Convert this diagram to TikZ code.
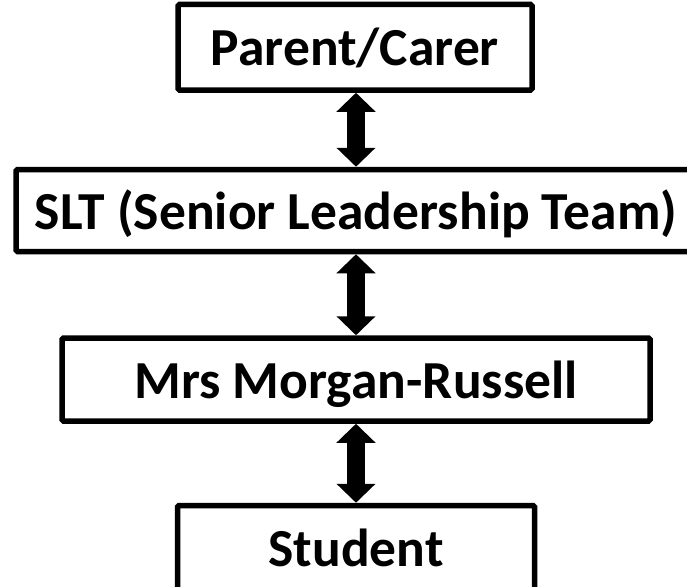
\documentclass[tikz,border=0pt]{standalone}
\usepackage{fontspec}
\setmainfont{Carlito}
\usetikzlibrary{arrows.meta}
\begin{document}
\begin{tikzpicture}[x=1pt,y=-1pt,
  box/.style={draw=black, line width=5.5pt, fill=white, rounded corners=1.5pt,
    inner sep=0pt, outer sep=0pt, text height=37pt, text depth=0pt,
    font=\fontsize{53.5}{60}\bfseries\selectfont},
  link/.style={line width=18pt, {Triangle[width=38pt,length=19pt]}-{Triangle[width=38pt,length=19pt]}, shorten <=0pt, shorten >=0pt}]
\useasboundingbox[fill=white] (0,0) rectangle (687,586);
\node[box, minimum width=354pt, minimum height=85.5pt] (parent) at (355,47.25) {Parent/Carer};
\node[box, minimum width=680pt, minimum height=82pt] (slt) at (356,210.5) {SLT (Senior Leadership Team)};
\node[box, minimum width=588pt, minimum height=83pt] (mrs) at (356,379.5) {Mrs Morgan-Russell};
\node[box, minimum width=357pt, minimum height=96pt] (student) at (356,553.5) {};
\node[font=\fontsize{53.5}{60}\bfseries\selectfont, text height=37pt, text depth=0pt, inner sep=0pt] (studentlabel) at (356,547.5) {Student};
\draw[link] ([yshift=-2.75pt]parent.south -| 356,0) -- ([yshift=2.75pt]slt.north -| 356,0);
\draw[link] ([yshift=-2.75pt]slt.south) -- ([yshift=2.75pt]mrs.north);
\draw[link] ([yshift=-2.75pt]mrs.south) -- ([yshift=2.75pt]student.north);
\end{tikzpicture}
\end{document}
